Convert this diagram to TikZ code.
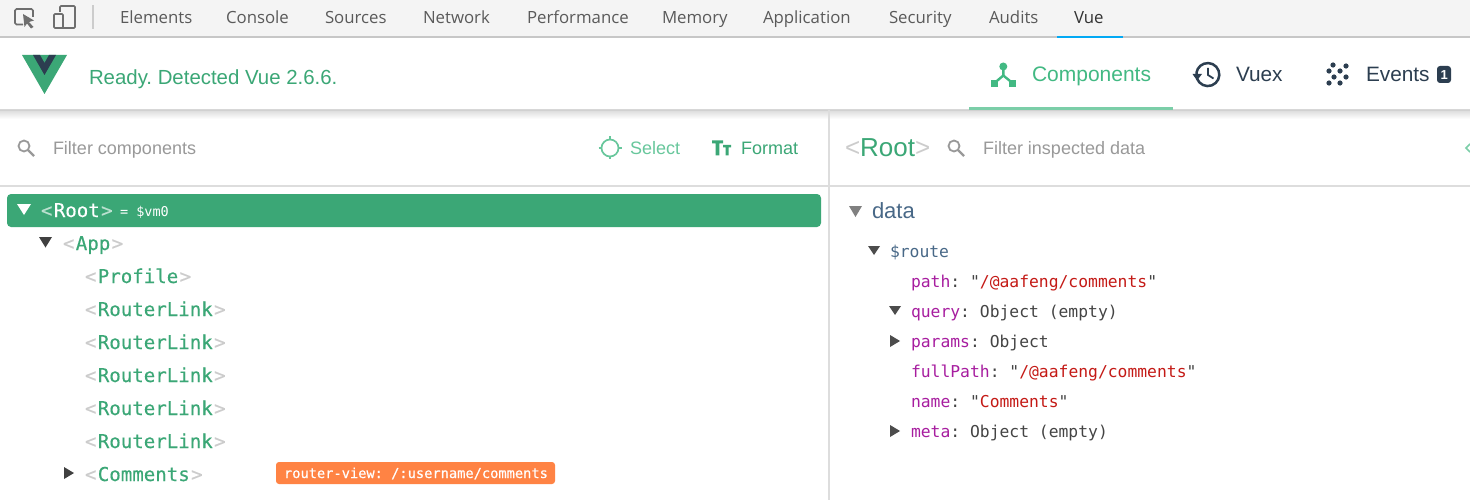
\documentclass[tikz,border=0pt]{standalone}
\usepackage{fontspec}
\setmainfont{Liberation Sans}
\newfontfamily\tabfont{Open Sans}
\newfontfamily\monofont{DejaVu Sans Mono}
\newfontfamily\treefont[FakeBold=0.35]{DejaVu Sans Mono}
\usetikzlibrary{shapes.geometric}
\definecolor{vgreen}{HTML}{3BA776}
\definecolor{vbright}{HTML}{42B983}
\definecolor{vdark}{HTML}{2C3E50}
\definecolor{vline}{HTML}{DDDDDD}
\definecolor{vtab}{HTML}{5A5A5A}
\definecolor{vgrey}{HTML}{999999}
\definecolor{vbrack}{HTML}{CCCCCC}
\definecolor{vblue}{HTML}{486887}
\definecolor{vpurple}{HTML}{A71D9F}
\definecolor{vred}{HTML}{C41A16}
\definecolor{vtext}{HTML}{444444}
\definecolor{vicon}{HTML}{6E6E6E}
\definecolor{vtagc}{HTML}{FF8344}
\definecolor{vtabline}{HTML}{03A9F4}
\tikzset{
  x=1pt,y=-1pt,
  txt/.style={anchor=base west,inner sep=0pt,outer sep=0pt},
  tabtxt/.style={txt,font=\tabfont\fontsize{16.8}{18}\selectfont,text=vtab},
  headtxt/.style={txt,font=\fontsize{20.8}{24}\selectfont,text=vdark},
  tree/.style={txt,font=\treefont\fontsize{19.1}{22}\selectfont,text=vgreen},
  dat/.style={txt,font=\monofont\fontsize{16.35}{20}\selectfont,text=vtext},
  filt/.style={txt,font=\fontsize{18}{22}\selectfont,text=vgrey},
}
\newcommand{\brk}[1]{\textcolor{vbrack}{#1}}
\newcommand{\tagname}[1]{\brk{<}\hspace{1.3pt}#1\hspace{1.3pt}\brk{>}}
\frenchspacing
\begin{document}
\begin{tikzpicture}
\useasboundingbox (0,0) rectangle (1470,500);
\fill[white] (0,0) rectangle (1470,500);
% toolbar
\fill[black!4.5] (0,0) rectangle (1470,36);
\fill[black!22] (0,36) rectangle (1470,38);
\fill[vtabline] (1057,36) rectangle (1123,38);
\draw[vicon,line width=1.6pt,rounded corners=1.5pt] (23,24.5) -- (15,24.5) -- (15,9) -- (33,9) -- (33,17);
\fill[vicon] (23,14) -- (34,20.5) -- (29,22) -- (33.5,27) -- (31,28.5) -- (27,23.5) -- (24.5,27) -- cycle;
\draw[vicon,line width=1.6pt,rounded corners=1pt] (60,12) -- (60,6) -- (75,6) -- (75,28) -- (62,28);
\draw[vicon,line width=1.6pt,rounded corners=1pt] (54,14) rectangle (63,28);
\fill[vbrack] (92,5) rectangle (94,29);
\node[tabtxt] (tElements) at (120,24) {Elements};
\node[tabtxt] (tConsole) at (226,24) {Console};
\node[tabtxt] (tSources) at (325,24) {Sources};
\node[tabtxt] (tNetwork) at (423,24) {Network};
\node[tabtxt] (tPerformance) at (527,24) {Performance};
\node[tabtxt] (tMemory) at (662,24) {Memory};
\node[tabtxt] (tApplication) at (763,24) {Application};
\node[tabtxt] (tSecurity) at (889,24) {Security};
\node[tabtxt] (tAudits) at (989,24) {Audits};
\node[tabtxt,text=black!80] (tVue) at (1074,24) {Vue};
% header shadow
\shade[top color=black!14,bottom color=white] (0,110) rectangle (1470,119);
\fill[black!18] (0,110) rectangle (1470,111);
% logo
\fill[vbright!90!black] (22,55) -- (67,55) -- (44.5,94) -- cycle;
\fill[vdark] (33,55) -- (40,55) -- (44.5,63) -- (49,55) -- (56,55) -- (44.5,75) -- cycle;
\node[txt,font=\fontsize{20.4}{24}\selectfont,text=vgreen] (ready) at (89,84.5) {Ready. Detected Vue 2.6.6.};
% header tabs
\fill[vbright!70!white] (969,107) rectangle (1173,110);
\fill[vbright] (1003.3,66.5) circle (4);
\fill[vbright] (991,80) rectangle (998,87);
\fill[vbright] (1009,80) rectangle (1016,87);
\draw[vbright,line width=2.4pt] (1003.3,68) -- (1003.3,75.5) -- (994.5,83);
\draw[vbright,line width=2.4pt] (1003.3,75.5) -- (1012.5,83);
\node[headtxt,font=\fontsize{21}{24}\selectfont,text=vbright] (cmp) at (1032,81.5) {Components};
\draw[vdark,line width=2.5pt] (1197,78.5) arc[start angle=160,end angle=-190,radius=11.5];
\fill[vdark] (1192.5,74) -- (1202,74) -- (1197,80.5) -- cycle;
\draw[vdark,line width=1.8pt] (1208,68) -- (1208,75) -- (1213.5,78.5);
\node[headtxt] (vuex) at (1236,81.5) {Vuex};
\foreach \a/\b/\r in {1329/71/2.6,1333/65/2.6,1346/66/2.6,1340/71/2.6,1334/77/2.6,1346/77/2.6,1329/83/2.6,1340/83/2.6}
  \fill[vdark] (\a,\b) circle (\r);
\node[headtxt] (events) at (1366,81.5) {Events};
\fill[vdark,rounded corners=3pt] (1437,66) rectangle (1451,83);
\node[txt,font=\fontsize{13}{14}\bfseries\selectfont,text=white] (badge) at (1440.5,79.5) {1};
% filter row
\draw[vgrey,line width=1.8pt] (24,146) circle (5.5);
\draw[vgrey,line width=2.2pt] (28,150) -- (34,156);
\node[filt] (f1) at (53,154) {Filter components};
\draw[vbright!80!white,line width=1.7pt] (610,148) circle (8.5);
\draw[vbright!80!white,line width=1.7pt] (610,136.5) -- (610,140) (610,156) -- (610,159.5) (598.5,148) -- (602,148) (618,148) -- (621.5,148);
\node[filt,text=vbright!80!white] (sel) at (630,154) {Select};
\fill[vgreen] (712,140.5) rectangle (723,143.5) (715.7,140.5) rectangle (719.3,155.5) (723,145) rectangle (731,147.5) (725.5,145) rectangle (728.5,155.5);
\node[filt,text=vgreen] (fmt) at (741,154) {Format};
\node[txt,font=\fontsize{26}{30}\selectfont,text=vgreen] (rootT) at (845,157) {\brk{<}Root\brk{>}};
\draw[vgrey,line width=1.8pt] (954,146) circle (5.5);
\draw[vgrey,line width=2.2pt] (958,150) -- (964,156);
\node[filt] (f2) at (983,154) {Filter inspected data};
\draw[vbright!70!white,line width=1.6pt] (1470,144) -- (1466,148) -- (1470,152);
% panel lines
\fill[vline] (0,185) rectangle (1470,187);
\fill[vline] (828,110) rectangle (830,500);
% tree
\fill[vgreen,rounded corners=4pt] (7,194) rectangle (821,227);
\fill[white] (17,204) -- (31,204) -- (24,215) -- cycle;
\node[tree,text=white] (nRoot) at (41,217) {\textcolor{white!65!vgreen}{<}\hspace{1.3pt}Root\hspace{1.3pt}\textcolor{white!65!vgreen}{>}};
\node[txt,font=\monofont\fontsize{13.5}{16}\selectfont,text=white] (nVm) at (120,216) {= \$vm0};
\fill[black!75] (39,237) -- (52,237) -- (45.5,247.5) -- cycle;
\node[tree] (nApp) at (63,250) {\tagname{App}};
\node[tree] (nProfile) at (85,283) {\tagname{Profile}};
\node[tree] (nL1) at (85,316) {\tagname{RouterLink}};
\node[tree] (nL2) at (85,349) {\tagname{RouterLink}};
\node[tree] (nL3) at (85,382) {\tagname{RouterLink}};
\node[tree] (nL4) at (85,415) {\tagname{RouterLink}};
\node[tree] (nL5) at (85,448) {\tagname{RouterLink}};
\fill[black!75] (64,467) -- (74,473) -- (64,479) -- cycle;
\node[tree] (nC) at (85,481) {\tagname{Comments}};
\fill[vtagc,rounded corners=3pt] (276,462) rectangle (555,484);
\node[txt,font=\treefont\fontsize{13.7}{16}\selectfont,text=white] (nTag) at (284,478) {router-view: /:username/comments};
% data
\fill[black!50] (849,206) -- (862,206) -- (855.5,217) -- cycle;
\node[txt,font=\fontsize{22}{26}\selectfont,text=vblue] (dData) at (872,218) {data};
\fill[black!70] (868,246) -- (880,246) -- (874,255) -- cycle;
\node[dat,text=vblue] (dRoute) at (890,257) {\$route};
\node[dat] (dPath) at (911,287) {\textcolor{vpurple}{path}: "\textcolor{vred}{/@aafeng/comments}"};
\fill[black!70] (889,306) -- (901,306) -- (895,315) -- cycle;
\node[dat] (dQuery) at (911,317) {\textcolor{vpurple}{query}: Object (empty)};
\fill[black!70] (890,335) -- (900,341) -- (890,347) -- cycle;
\node[dat] (dParams) at (911,347) {\textcolor{vpurple}{params}: Object};
\node[dat] (dFull) at (911,377) {\textcolor{vpurple}{fullPath}: "\textcolor{vred}{/@aafeng/comments}"};
\node[dat] (dName) at (911,407) {\textcolor{vpurple}{name}: "\textcolor{vred}{Comments}"};
\fill[black!70] (890,425) -- (900,431) -- (890,437) -- cycle;
\node[dat] (dMeta) at (911,437) {\textcolor{vpurple}{meta}: Object (empty)};
\end{tikzpicture}
\end{document}
